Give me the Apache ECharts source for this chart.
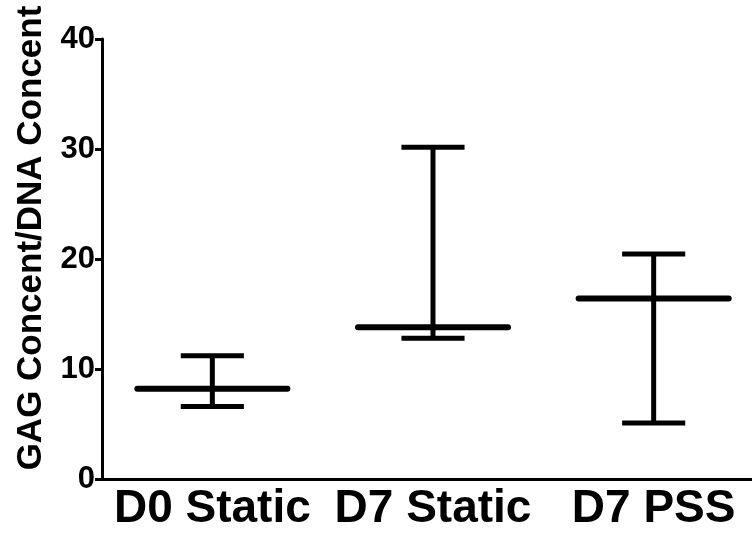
<!DOCTYPE html>
<html>
<head>
<meta charset="utf-8">
<script src="https://cdn.jsdelivr.net/npm/echarts@6/dist/echarts.min.js"></script>
<style>html,body{margin:0;padding:0;background:#fff;overflow:hidden;width:752px;height:535px;}#c{width:764px;height:535px;}</style>
</head>
<body>
<div id="c"></div>
<script>
var categories = ['D0 Static', 'D7 Static', 'D7 PSS'];
var means = [8.2, 13.8, 16.4];
var upper = [11.2, 30.15, 20.45];
var lower = [6.6, 12.8, 5.1];
var yTicks = [0, 10, 20, 30, 40];
var yTitle = 'GAG Concent/DNA Concent';

var FONT = '"Liberation Sans", Arial, Helvetica, sans-serif';
var chart = echarts.init(document.getElementById('c'), null, {renderer: 'canvas'});

var seriesData = categories.map(function (c, i) { return [i, means[i], lower[i], upper[i]]; });

chart.setOption({
  animation: false,
  backgroundColor: '#fff',
  grid: {left: 102, right: 0, top: 39, bottom: 56, containLabel: false},
  xAxis: {
    type: 'category',
    data: categories,
    boundaryGap: true,
    axisLine: {lineStyle: {color: '#000', width: 3}},
    axisTick: {alignWithLabel: true, length: 6, lineStyle: {color: '#000', width: 3}},
    axisLabel: {interval: 0, hideOverlap: false, color: '#000', fontFamily: FONT, fontWeight: 'bold', fontSize: 46, margin: 7},
    splitLine: {show: false}
  },
  yAxis: {
    type: 'value',
    min: yTicks[0],
    max: yTicks[yTicks.length - 1],
    interval: 10,
    axisLine: {show: true, lineStyle: {color: '#000', width: 3}},
    axisTick: {show: true, length: 7, lineStyle: {color: '#000', width: 3}},
    axisLabel: {color: '#000', fontFamily: FONT, fontWeight: 'bold', fontSize: 31, margin: 7},
    splitLine: {show: false}
  },
  graphic: [{
    type: 'text',
    x: 31, y: 238,
    rotation: Math.PI / 2,
    style: {
      text: yTitle,
      fill: '#000',
      font: 'bold 35px ' + FONT,
      textAlign: 'center',
      textVerticalAlign: 'middle'
    }
  }],
  series: [{
    type: 'custom',
    data: seriesData,
    encode: {x: 0, y: [1, 2, 3]},
    renderItem: function (params, api) {
      var idx = api.value(0);
      var m = api.coord([idx, api.value(1)]);
      var lo = api.coord([idx, api.value(2)]);
      var hi = api.coord([idx, api.value(3)]);
      var band = api.size([1, 0])[0];
      var capHalf = band * 0.143;
      var meanHalf = band * 0.34;
      var st = {stroke: '#000', lineWidth: 5};
      return {
        type: 'group',
        children: [
          {type: 'line', shape: {x1: m[0], y1: hi[1], x2: m[0], y2: lo[1]}, style: st},
          {type: 'line', shape: {x1: m[0] - capHalf, y1: hi[1], x2: m[0] + capHalf, y2: hi[1]}, style: st},
          {type: 'line', shape: {x1: m[0] - capHalf, y1: lo[1], x2: m[0] + capHalf, y2: lo[1]}, style: st},
          {type: 'line', shape: {x1: m[0] - meanHalf, y1: m[1], x2: m[0] + meanHalf, y2: m[1]},
           style: {stroke: '#000', lineWidth: 6, lineCap: 'round'}}
        ]
      };
    }
  }]
});
</script>
</body>
</html>
